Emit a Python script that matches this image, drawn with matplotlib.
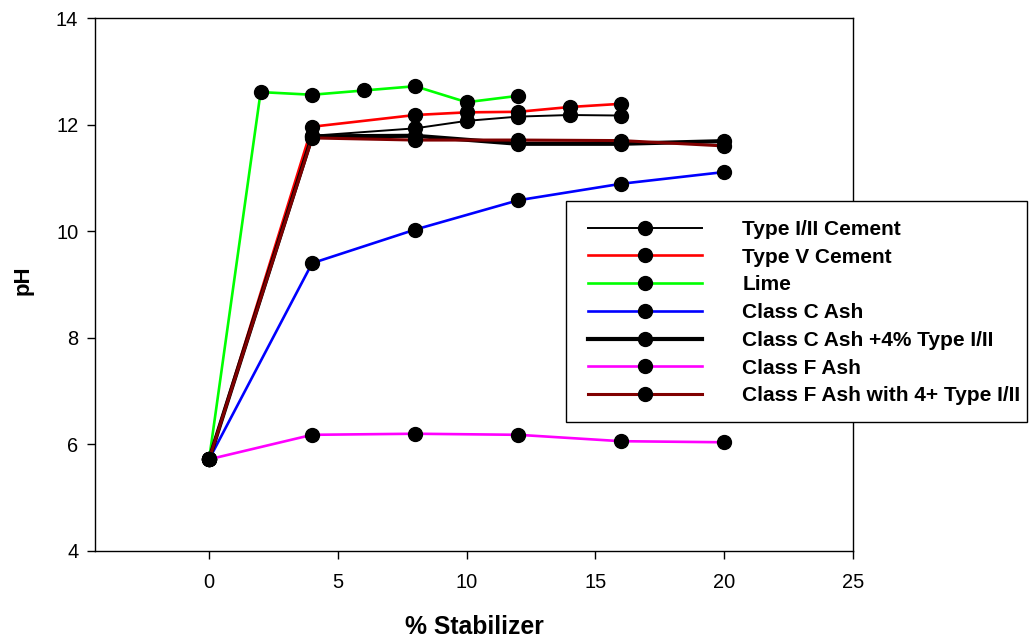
import matplotlib
matplotlib.use("Agg")
import matplotlib.pyplot as plt
from matplotlib.patches import Rectangle

plt.rcParams['font.family'] = ['Liberation Sans', 'DejaVu Sans']

# Data
x_type12 = [0, 4, 8, 10, 12, 14, 16]
y_type12 = [5.72, 11.79, 11.93, 12.07, 12.15, 12.18, 12.17]

x_type5 = [0, 4, 8, 10, 12, 14, 16]
y_type5 = [5.72, 11.96, 12.18, 12.23, 12.24, 12.33, 12.39]

x_lime = [0, 2, 4, 6, 8, 10, 12]
y_lime = [5.72, 12.61, 12.56, 12.64, 12.72, 12.42, 12.54]

x_classc = [0, 4, 8, 12, 16, 20]
y_classc = [5.72, 9.40, 10.03, 10.58, 10.89, 11.11]

x_classc4 = [0, 4, 8, 12, 16, 20]
y_classc4 = [5.72, 11.78, 11.79, 11.64, 11.64, 11.69]

x_classf = [0, 4, 8, 12, 16, 20]
y_classf = [5.72, 6.18, 6.20, 6.18, 6.06, 6.04]

x_classf4 = [0, 4, 8, 12, 16, 20]
y_classf4 = [5.72, 11.75, 11.71, 11.71, 11.70, 11.60]

labels = ["Type I/II Cement", "Type V Cement", "Lime", "Class C Ash",
          "Class C Ash +4% Type I/II", "Class F Ash", "Class F Ash with 4+ Type I/II"]
colors = ["#000000", "#ff0000", "#00ff00", "#0000ff", "#000000", "#ff00ff", "#800000"]
widths = [1.4, 1.9, 1.9, 1.9, 3.0, 1.9, 2.2]

series = [(x_type12, y_type12), (x_type5, y_type5), (x_lime, y_lime),
          (x_classc, y_classc), (x_classc4, y_classc4), (x_classf, y_classf),
          (x_classf4, y_classf4)]

fig = plt.figure(figsize=(10.29, 6.39), dpi=100)
ax = fig.add_axes([95/1029, 1-551/639, (853-95)/1029, (551-18)/639])

handles = []
for (xs, ys), lab, c, w in zip(series, labels, colors, widths):
    h, = ax.plot(xs, ys, color=c, lw=w, marker='o', markersize=10,
                 markerfacecolor='black', markeredgecolor='black', label=lab)
    handles.append(h)

ax.set_xlim(-4.43, 25)
ax.set_ylim(4, 14)
ax.set_xticks([0, 5, 10, 15, 20, 25])
ax.set_yticks([4, 6, 8, 10, 12, 14])
ax.tick_params(direction='out', length=6, width=1, labelsize=14.4, top=False, right=False)
ax.tick_params(axis='y', pad=6)
ax.tick_params(axis='x', pad=10)
for s in ax.spines.values():
    s.set_linewidth(1)

ax.set_xlabel("% Stabilizer", fontsize=17.8, fontweight='bold', va='center')
ax.set_ylabel("pH", fontsize=16, fontweight='bold', va='center')
ax.xaxis.set_label_coords(0.5, (551-627)/533)
ax.yaxis.set_label_coords((23-95)/758, (551-280)/533)

# legend frame (white box over the axes)
fig.patches.append(Rectangle((566/1029, 1-422/639), (1027-566)/1029, (422-201)/639,
                             transform=fig.transFigure, facecolor='white', edgecolor='black',
                             linewidth=1, zorder=4))

leg = fig.legend(handles=handles, labels=labels, loc='upper left',
                 bbox_to_anchor=(567/1029, 1-199/639), bbox_transform=fig.transFigure,
                 prop={'weight': 'bold', 'size': 15}, frameon=False,
                 handlelength=5.5, handletextpad=1.92,
                 labelspacing=0.42, borderpad=1.0, borderaxespad=0)
leg.set_zorder(5)

fig.savefig("out.png", dpi=100)
